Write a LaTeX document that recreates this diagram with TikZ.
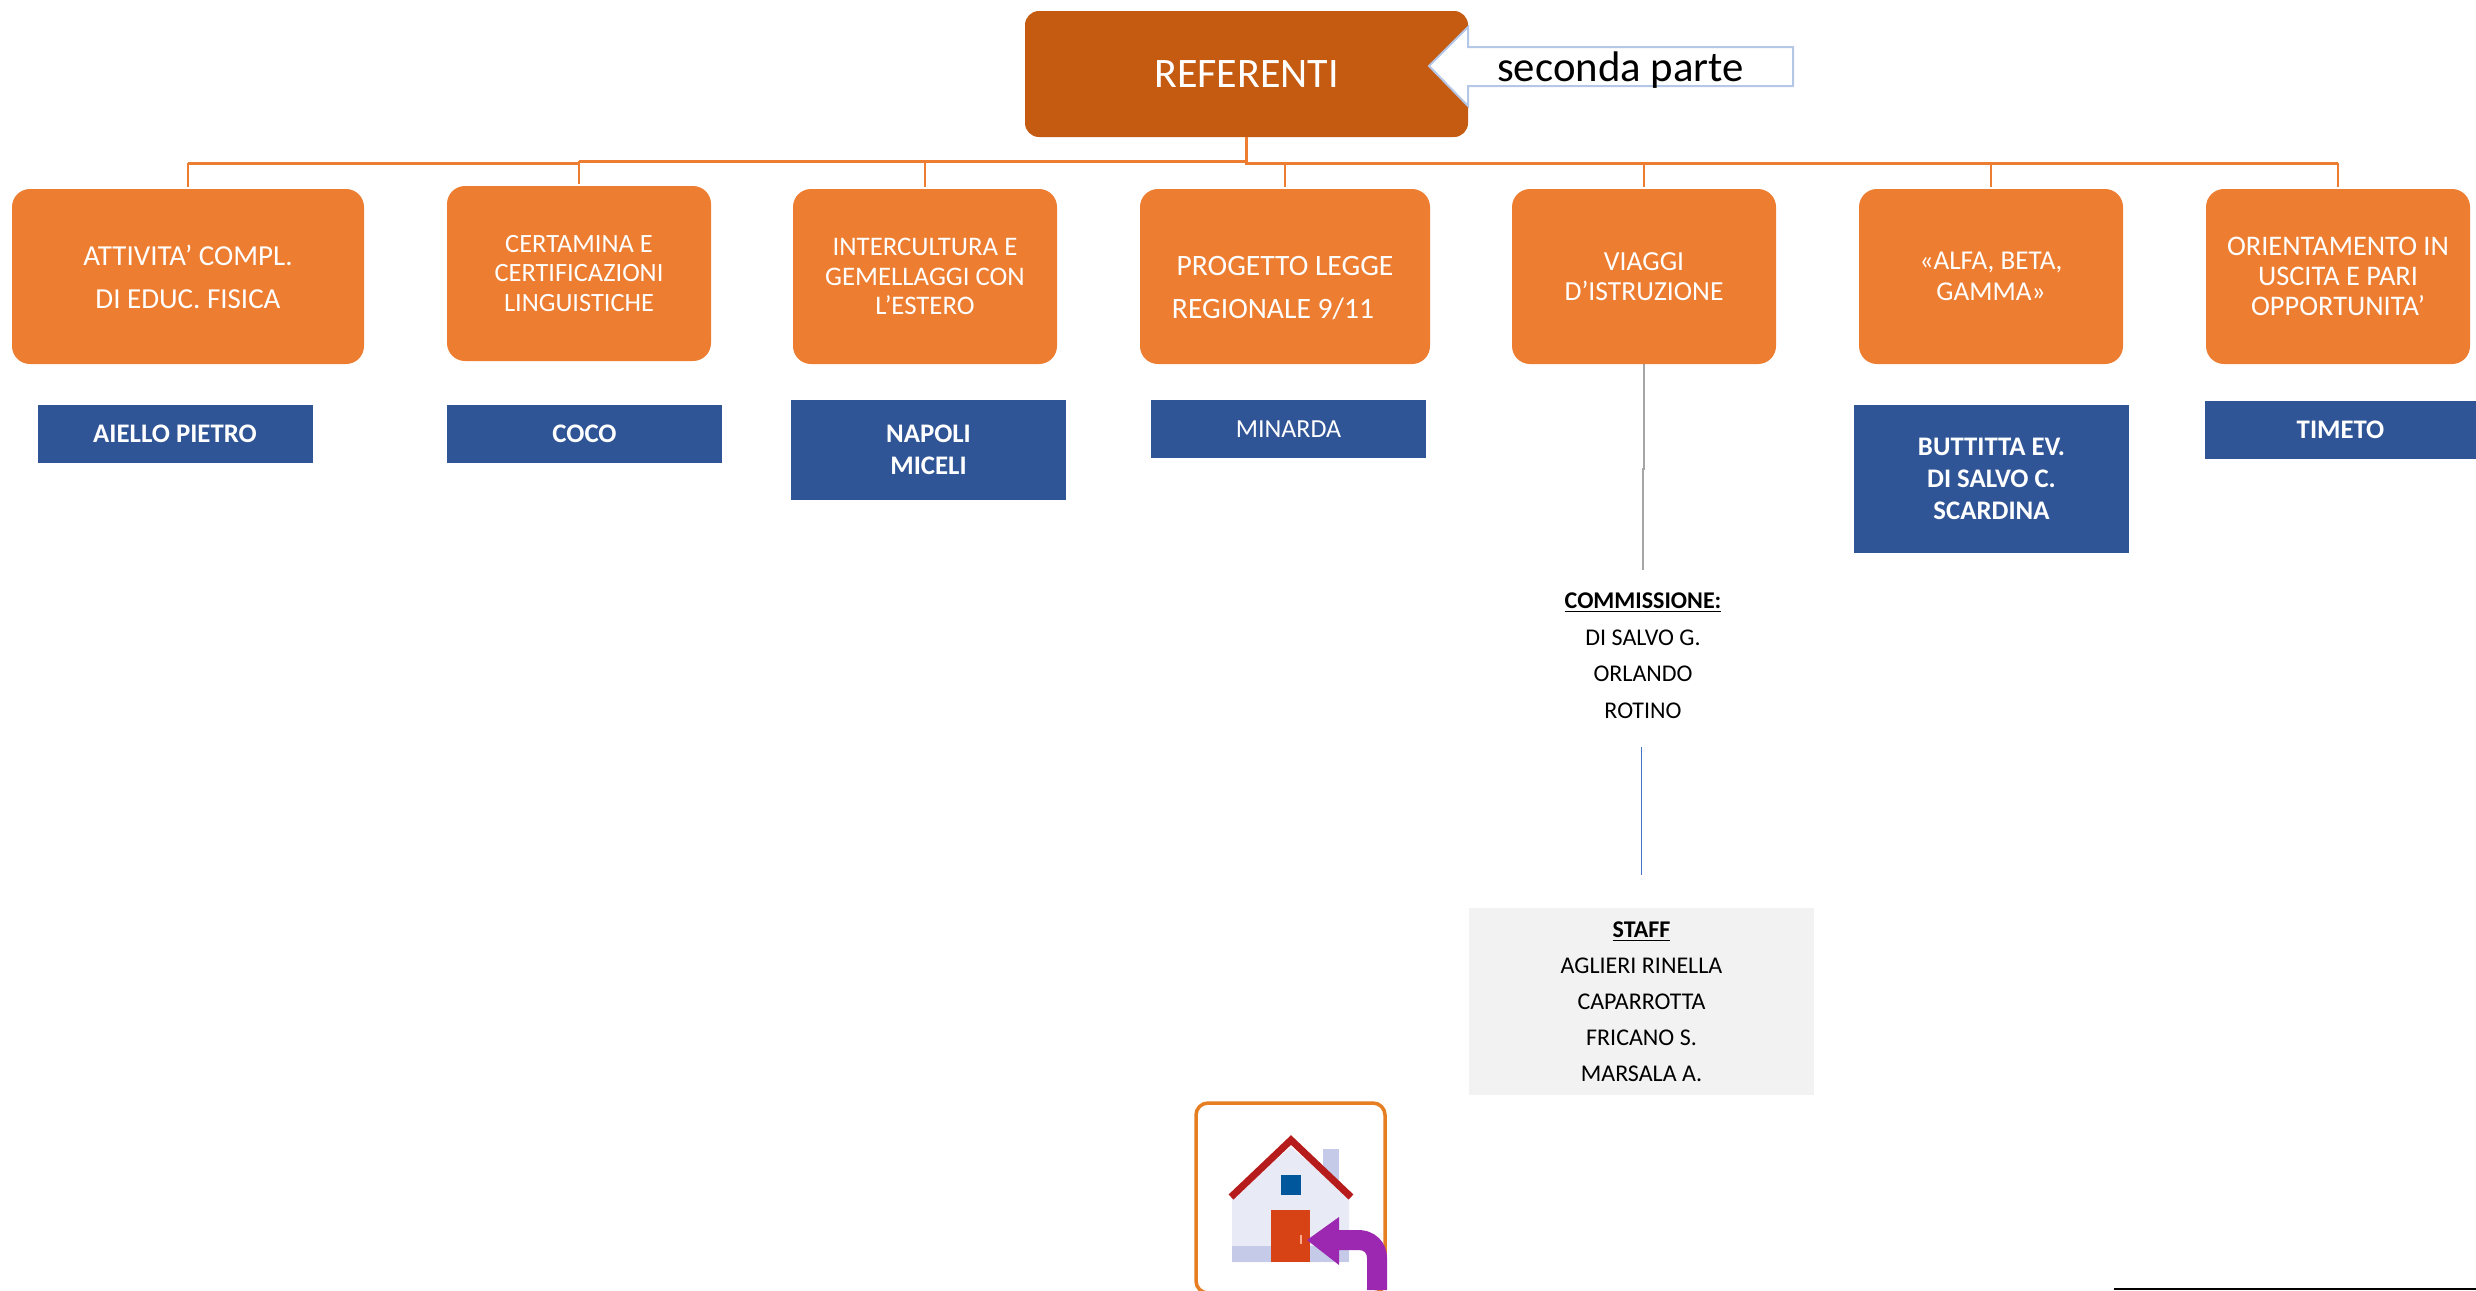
\documentclass[tikz,border=0pt]{standalone}
\usepackage{fontspec}
\setmainfont{Carlito}
\usetikzlibrary{positioning}
\definecolor{rootbrown}{HTML}{C55A11}
\definecolor{topicorange}{HTML}{ED7D31}
\definecolor{personblue}{HTML}{2F5597}
\definecolor{notebord}{HTML}{B4C7E7}
\definecolor{linkgrey}{HTML}{A5A5A5}
\definecolor{linkblue}{HTML}{4472C4}
\definecolor{staffgrey}{HTML}{F2F2F2}
\definecolor{frameorange}{HTML}{E67E22}
\definecolor{wallpale}{HTML}{E8EAF6}
\definecolor{wallshade}{HTML}{C5CAE9}
\definecolor{roofred}{HTML}{B71C1C}
\definecolor{winblue}{HTML}{01579B}
\definecolor{doorred}{HTML}{D84315}
\definecolor{knobpale}{HTML}{FFAB91}
\definecolor{backpurple}{HTML}{9C27B0}

\begin{document}
\begin{tikzpicture}[x=0.5pt,y=-0.5pt,outer sep=0pt,
        rootbox/.style={fill=rootbrown,text=white,rounded corners=7pt,minimum width=221.5pt,
          minimum height=63pt,font=\fontsize{21}{25}\selectfont},
        topic/.style={fill=topicorange,text=white,rounded corners=9pt,minimum width=132pt,
          minimum height=87.5pt,align=center,font=\fontsize{13.4}{14.75}\selectfont},
        person/.style={fill=personblue,text=white,minimum width=137.5pt,minimum height=29pt,
          align=center,font=\fontsize{13.4}{16}\selectfont\bfseries},
        plain/.style={align=center,font=\fontsize{12}{18.25}\selectfont},
        bus/.style={draw=topicorange,line width=1.5pt},
        drop/.style={draw=topicorange,line width=1pt,shorten >=1.25pt}]
  \useasboundingbox (0,0) rectangle (2476,1290);

  \node[rootbox] (root) at (1246.5,74) {REFERENTI};

  % topics
  \node[topic,minimum width=176pt,font=\fontsize{14.5}{21.5}\selectfont] (b1) at (188,276.5)
    {ATTIVITA’ COMPL.\\DI EDUC. FISICA};
  \node[topic,font=\fontsize{13.2}{14.75}\selectfont] (b2) [right=41.5pt of b1,yshift=1.5pt] {CERTAMINA E\\CERTIFICAZIONI\\LINGUISTICHE};
  \node[topic] (b3) [right=41pt of b2,yshift=-1.5pt] {INTERCULTURA E\\GEMELLAGGI CON\\L’ESTERO};
  \node[topic,minimum width=145pt,font=\fontsize{14.8}{21.5}\selectfont] (b4) [right=41.5pt of b3]
    {\rule{0pt}{21pt}PROGETTO LEGGE\\REGIONALE 9/11\hspace*{12pt}};
  \node[topic,font=\fontsize{13.8}{15.25}\selectfont] (b5) [right=41pt of b4] {VIAGGI\\D’ISTRUZIONE};
  \node[topic,font=\fontsize{13.6}{15.25}\selectfont] (b6) [right=41.5pt of b5] {«ALFA, BETA,\\GAMMA»};
  \node[topic,font=\fontsize{14.2}{15}\selectfont] (b7) [right=41.5pt of b6] {ORIENTAMENTO IN\\USCITA E PARI\\OPPORTUNITA’};

  % people
  \node[person] (p1) [below=20.5pt of b1,xshift=-6.5pt] {AIELLO PIETRO};
  \node[person] (p2) [below=22pt of b2,xshift=2.75pt] {COCO};
  \node[person,minimum height=50pt] (p3) [below=18pt of b3,xshift=1.75pt] {NAPOLI\\MICELI};
  \node[person,font=\fontsize{13}{16}\selectfont] (p4) [below=18pt of b4,xshift=1.75pt] {MINARDA};
  \node[person,minimum height=74pt] (p6) [below=20.5pt of b6,xshift=0.25pt] {BUTTITTA EV.\\DI SALVO C.\\SCARDINA};
  \node[person,minimum width=136pt] (p7) [below=18.5pt of b7,xshift=1.25pt] {TIMETO};

  \node[plain,minimum height=88.5pt] (comm) [below=103pt of b5,xshift=-0.5pt]
    {\textbf{\underline{COMMISSIONE:}}\\DI SALVO G.\\ORLANDO\\ROTINO\rule[-3pt]{0pt}{3pt}};
  \node[plain,fill=staffgrey,minimum width=172.5pt,minimum height=93.5pt,font=\fontsize{12}{18}\selectfont] (staff)
    [below=80.5pt of comm,xshift=-0.75pt]
    {\textbf{\underline{STAFF}}\\AGLIERI RINELLA\\CAPARROTTA\\FRICANO S.\\MARSALA A.};

  % bus lines
  \coordinate (busy) at (0,163);
  \coordinate (busl) at (0,161);
  \draw[bus] (root.south) -- (root.south |- busy) -- (b7.north |- busy);
  \draw[bus] (root.south |- busl) -- (b2.north |- busl);
  \draw[bus] (b2.north |- busy) -- (b1.north |- busy);
  \foreach \t in {b1,b3,b4,b5,b6,b7}
    \draw[drop] (\t.north |- busy) -- (\t.north);
  \draw[drop] (b2.north |- busl) -- (b2.north);

  \draw[linkgrey,line width=1pt] (b5.south) -- ++(0,-52.5pt) -| (comm.north);
  \draw[linkblue,line width=0.6pt,shorten >=16.5pt] (staff.north |- comm.south) -- (staff.north);

  % arrow next to the root
  \draw[notebord,fill=white,line width=1pt] (1429,66) -- (1468,27) -- (1468,47) -- (1793,47)
    -- (1793,86) -- (1468,86) -- (1468,106) -- cycle;
  \node[font=\fontsize{21.4}{25}\selectfont] (note) at (1620.5,70) {seconda parte};

  % home button
  \draw[frameorange,line width=1.75pt,rounded corners=6pt] (1196,1103) rectangle (1385,1293);
  \fill[wallshade] (1323,1149) rectangle (1339,1190);
  \fill[wallpale] (1232,1197) -- (1291,1147) -- (1349,1197) -- (1349,1262) -- (1232,1262) -- cycle;
  \fill[wallshade] (1232,1246) rectangle (1349,1262);
  \draw[roofred,line width=3.5pt] (1231,1197) -- (1291,1140) -- (1351,1197);
  \fill[winblue] (1281,1175) rectangle (1301,1195);
  \fill[doorred] (1271,1210) rectangle (1310,1262);
  \fill[knobpale] (1300,1235) rectangle (1302,1244);
  \fill[backpurple] (1307,1240) -- (1339,1217) -- (1339,1230) -- (1358,1230)
    .. controls (1375,1230) and (1387,1242) .. (1387,1258) -- (1387,1290) -- (1367,1290) -- (1367,1258)
    .. controls (1367,1253) and (1364,1250) .. (1359,1250) -- (1339,1250) -- (1339,1265) -- cycle;

  \fill[black] (2114,1288) rectangle (2476,1290);
\end{tikzpicture}
\end{document}
